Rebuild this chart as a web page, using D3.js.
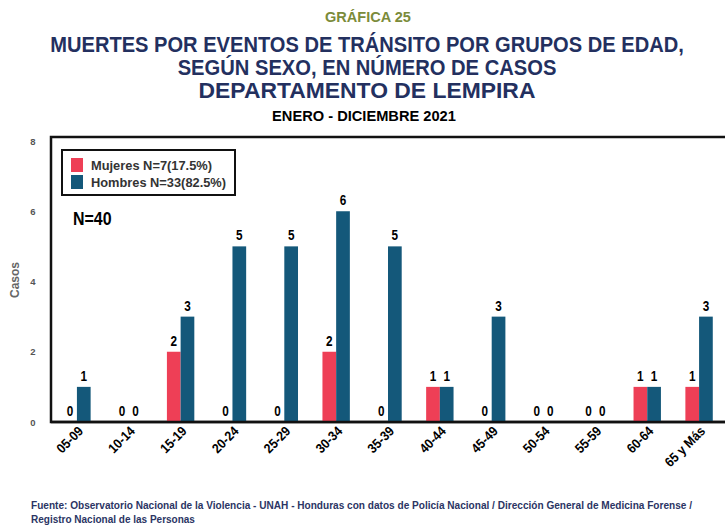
<!DOCTYPE html>
<html>
<head>
<meta charset="utf-8">
<script src="https://cdn.jsdelivr.net/npm/d3@7"></script>
<style>
    body { margin: 0; background: #fff; }
    svg { display: block; }
    text { font-family: 'Liberation Sans', Arial, sans-serif; font-weight: bold; }
</style>
</head>
<body>
<svg id="chart" width="725" height="525"></svg>
<script>
const categories = ['05-09', '10-14', '15-19', '20-24', '25-29', '30-34', '35-39', '40-44', '45-49', '50-54', '55-59', '60-64', '65 y Más'];
const mujeres = [0, 0, 2, 0, 0, 2, 0, 1, 0, 0, 0, 1, 1];
const hombres = [1, 0, 3, 5, 5, 6, 5, 1, 3, 0, 0, 1, 3];
const yTicks = [0, 2, 4, 6, 8];
const seriesNames = ['Mujeres N=7(17.5%)', 'Hombres N=33(82.5%)'];
const colors = ['#ee3f56', '#14587a'];

const svg = d3.select('#chart');
const plot = { left: 51, right: 725, top: 141, bottom: 422, frameTop: 137 };
const squeeze = 0.84; // no narrow font installed, so squeeze horizontally

const x0 = d3.scaleBand().domain(categories).range([plot.left, plot.right]);
const x1 = d3.scaleBand().domain([0, 1]).range([x0.bandwidth() / 2 - 13.7, x0.bandwidth() / 2 + 13.7]);
const y = d3.scaleLinear().domain([0, 8]).range([plot.bottom, plot.top]);

// squeeze a line to the width
function fitted(t, cx, cy, size, color, width, anchor) {
    const g = svg.append('g');
    const txt = g.append('text').attr('text-anchor', anchor || 'middle')
        .attr('font-size', size).attr('fill', color).text(t);
    const sx = width / txt.node().getComputedTextLength();
    g.attr('transform', `translate(${cx},${cy}) scale(${sx},1)`);
}

// Titles
fitted('GRÁFICA 25', 368, 22, 15, '#7b8b3a', 86);
const titleLines = ['MUERTES POR EVENTOS DE TRÁNSITO POR GRUPOS DE EDAD,', 'SEGÚN SEXO, EN NÚMERO DE CASOS', 'DEPARTAMENTO DE LEMPIRA'];
const titleWidths = [634, 379, 337];
titleLines.forEach((t, i) => fitted(t, 367, 52 + i * 23, 22, '#23305f', titleWidths[i]));
fitted('ENERO - DICIEMBRE 2021', 364, 121, 15, '#000', 184);

// Y axis tick labels
svg.append('g').selectAll('text').data(yTicks).enter().append('text')
    .attr('x', 33).attr('y', d => y(d) + 3.5).attr('text-anchor', 'middle')
    .attr('font-size', 9.5).attr('fill', '#555').text(d => d);

svg.append('text').attr('transform', 'translate(19,280) rotate(-90)')
    .attr('text-anchor', 'middle').attr('font-size', 12).attr('fill', '#666').text('Casos');

// Frame
svg.append('path')
    .attr('d', `M${plot.right},${plot.frameTop}H${plot.left}V${plot.bottom}H${plot.right}`)
    .attr('fill', 'none').attr('stroke', '#111').attr('stroke-width', 2.5);

// Bars
const groups = svg.append('g').selectAll('g').data(categories).enter().append('g')
    .attr('transform', d => `translate(${x0(d)},0)`);

[mujeres, hombres].forEach((series, s) => {
    groups.append('rect')
        .attr('x', x1(s)).attr('width', x1.bandwidth())
        .attr('y', (d, i) => y(series[i]))
        .attr('height', (d, i) => plot.bottom - y(series[i]))
        .attr('fill', colors[s]);
    groups.append('text')
        .attr('transform', (d, i) => `translate(${x1(s) + x1.bandwidth() / 2},${y(series[i]) - 6}) scale(${squeeze},1)`)
        .attr('text-anchor', 'middle').attr('font-size', 14).attr('fill', '#000')
        .text((d, i) => series[i]);
});

// Redraw baseline over bars
svg.append('line').attr('x1', plot.left).attr('x2', plot.right)
    .attr('y1', plot.bottom).attr('y2', plot.bottom)
    .attr('stroke', '#111').attr('stroke-width', 2.5);

// X labels
svg.append('g').selectAll('text').data(categories).enter().append('text')
    .attr('transform', d => `translate(${x0(d) + x0.bandwidth() / 2 + 7},${plot.bottom + 10}) rotate(-45) scale(0.9,1)`)
    .attr('text-anchor', 'end').attr('font-size', 13.5).attr('fill', '#000').text(d => d);

// Legend
const legend = svg.append('g');
legend.append('rect').attr('x', 62).attr('y', 150).attr('width', 173).attr('height', 45)
    .attr('fill', '#fff').attr('stroke', '#111').attr('stroke-width', 2);
seriesNames.forEach((name, i) => {
    legend.append('rect').attr('x', 71).attr('y', 158 + i * 17).attr('width', 12).attr('height', 14)
        .attr('fill', colors[i]);
    legend.append('text').attr('x', 91).attr('y', 170 + i * 17)
        .attr('font-size', 13).attr('fill', '#333')
        .attr('textLength', i === 0 ? 121 : 135).attr('lengthAdjust', 'spacingAndGlyphs').text(name);
});
svg.append('text').attr('transform', `translate(73,225) scale(${squeeze},1)`)
    .attr('font-size', 19).attr('fill', '#000').text('N=40');

// Footer
const footer = ['Fuente: Observatorio Nacional de la Violencia - UNAH - Honduras con datos de Policía Nacional / Dirección General de Medicina Forense /', 'Registro Nacional de las Personas'];
const footerWidths = [662, 164];
footer.forEach((t, i) => fitted(t, 31, 509 + i * 14, 10.5, '#2b3564', footerWidths[i], 'start'));
</script>
</body>
</html>
